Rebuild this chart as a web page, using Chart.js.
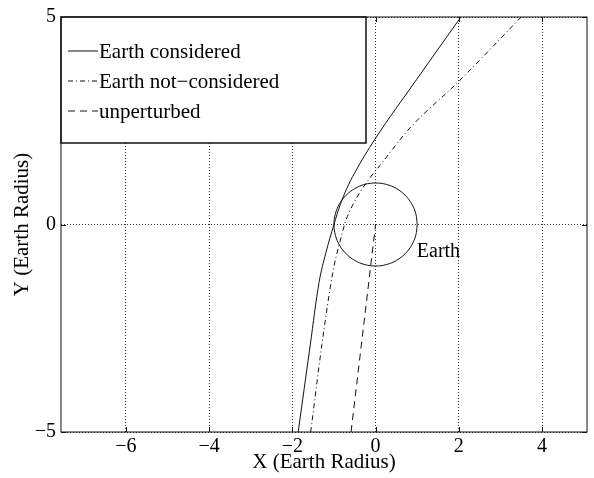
<!DOCTYPE html>
<html>
<head>
<meta charset="utf-8">
<script src="https://cdn.jsdelivr.net/npm/chart.js@4.4.0/dist/chart.umd.min.js"></script>
<style>
  html, body { margin: 0; padding: 0; background: #fff; }
</style>
</head>
<body>
<canvas id="orbit" width="594" height="478"></canvas>
<script>
const xTicks = [-6, -4, -2, 0, 2, 4];
const yTicks = [-5, 0, 5];

// trajectories (Earth radii)
const consideredX = [-1.86, -1.57, -1.36, -1.2, -1.0, -0.86, -0.7, -0.5, -0.02, 0.99, 2.05];
const consideredY = [-5, -2.9, -1.4, -0.7, 0.0, 0.45, 0.85, 1.25, 2.05, 3.5, 5];

const notConsideredX = [-1.56, -1.29, -1.02, -0.86, -0.72, -0.56, -0.36, -0.14, 0.1, 0.82, 1.99, 3.5];
const notConsideredY = [-5, -2.89, -1.11, -0.43, 0.08, 0.45, 0.8, 1.12, 1.42, 2.32, 3.44, 5];

const unperturbedX = [-0.59, 0];
const unperturbedY = [-5, 0];

// unit circle (the Earth), every 15 degrees
const earthX = [1, 0.966, 0.866, 0.707, 0.5, 0.259, 0, -0.259, -0.5, -0.707, -0.866, -0.966,
  -1, -0.966, -0.866, -0.707, -0.5, -0.259, 0, 0.259, 0.5, 0.707, 0.866, 0.966, 1];
const earthY = [0, 0.259, 0.5, 0.707, 0.866, 0.966, 1, 0.966, 0.866, 0.707, 0.5, 0.259,
  0, -0.259, -0.5, -0.707, -0.866, -0.966, -1, -0.966, -0.866, -0.707, -0.5, -0.259, 0];

const earthLabel = 'Earth';
const earthLabelAt = {x: 0.99, y: -0.78};

const serif = 'Liberation Serif';
const ink = '#111';

function pts(xs, ys) {
  return xs.map((x, i) => ({x: x, y: ys[i]}));
}

function minus(v) {
  return String(v).replace('-', '\u2212');
}

// legend box, inward ticks, frame and the Earth label
const decorations = {
  id: 'decorations',
  afterDatasetsDraw(chart) {
    const {ctx, chartArea: a, scales: {x, y}} = chart;
    ctx.save();

    ctx.strokeStyle = ink;
    ctx.lineWidth = 1;
    ctx.beginPath();
    xTicks.forEach(v => {
      const px = Math.round(x.getPixelForValue(v)) + 0.5;
      ctx.moveTo(px, a.bottom); ctx.lineTo(px, a.bottom - 5);
      ctx.moveTo(px, a.top); ctx.lineTo(px, a.top + 5);
    });
    yTicks.forEach(v => {
      const py = Math.round(y.getPixelForValue(v)) + 0.5;
      ctx.moveTo(a.left, py); ctx.lineTo(a.left + 5, py);
      ctx.moveTo(a.right, py); ctx.lineTo(a.right - 5, py);
    });
    ctx.stroke();

    // Earth label
    ctx.fillStyle = '#000';
    ctx.font = '20px "' + serif + '"';
    ctx.textBaseline = 'alphabetic';
    ctx.textAlign = 'left';
    ctx.fillText(earthLabel, x.getPixelForValue(earthLabelAt.x), y.getPixelForValue(earthLabelAt.y));

    // legend
    const bw = 305, bh = 126;
    ctx.fillStyle = '#fff';
    ctx.fillRect(a.left, a.top, bw, bh);
    ctx.lineWidth = 1.5;
    ctx.strokeStyle = ink;
    ctx.strokeRect(a.left, a.top, bw, bh);

    ctx.font = '21px "' + serif + '"';
    chart.data.datasets.slice(0, 3).forEach((ds, i) => {
      const ly = a.top + 34 + i * 30;
      ctx.beginPath();
      ctx.lineWidth = 1;
      ctx.setLineDash(ds.borderDash || []);
      ctx.moveTo(a.left + 7, ly);
      ctx.lineTo(a.left + 37, ly);
      ctx.stroke();
      ctx.setLineDash([]);
      ctx.fillStyle = '#000';
      ctx.fillText(ds.label, a.left + 38, ly + 7);
    });

    // frame
    ctx.lineWidth = 1;
    ctx.strokeStyle = ink;
    ctx.strokeRect(a.left, a.top, a.right - a.left, a.bottom - a.top);
    ctx.restore();
  }
};

new Chart(document.getElementById('orbit'), {
  type: 'scatter',
  data: {
    datasets: [
      {
        label: 'Earth considered',
        data: pts(consideredX, consideredY),
        borderDash: [],
      },
      {
        label: 'Earth not\u2212considered',
        data: pts(notConsideredX, notConsideredY),
        borderDash: [5, 3, 1, 3],
      },
      {
        label: 'unperturbed',
        data: pts(unperturbedX, unperturbedY),
        borderDash: [7, 5],
      },
      {
        label: 'Earth',
        data: pts(earthX, earthY),
        borderDash: [],
        tension: 0.4,
        cubicInterpolationMode: 'default',
      },
    ].map(ds => Object.assign({
      showLine: true,
      pointRadius: 0,
      borderColor: ink,
      borderWidth: 1,
      cubicInterpolationMode: 'monotone',
    }, ds)),
  },
  options: {
    responsive: false,
    animation: false,
    devicePixelRatio: 1,
    layout: {padding: {top: 16, right: 7, left: 0, bottom: 0}},
    plugins: {
      legend: {display: false},
      tooltip: {enabled: false},
    },
    scales: {
      x: {
        type: 'linear',
        min: -7.56,
        max: 5.08,
        afterBuildTicks: s => { s.ticks = xTicks.map(v => ({value: v})); },
        afterFit: s => { s.height = 46; },
        ticks: {
          callback: v => minus(v),
          color: '#000',
          padding: 3,
          font: {family: serif, size: 20},
        },
        grid: {color: '#333', lineWidth: 1, drawTicks: false},
        border: {display: false, dash: [1, 2]},
        title: {
          display: true,
          text: 'X (Earth Radius)',
          color: '#000',
          font: {family: serif, size: 21},
          padding: {top: 0, bottom: 3},
        },
      },
      y: {
        type: 'linear',
        min: -5,
        max: 5,
        afterBuildTicks: s => { s.ticks = yTicks.map(v => ({value: v})); },
        afterFit: s => { s.width = 61; },
        ticks: {
          callback: v => minus(v),
          color: '#000',
          padding: 5,
          font: {family: serif, size: 20},
        },
        grid: {color: '#333', lineWidth: 1, drawTicks: false},
        border: {display: false, dash: [1, 2]},
        title: {
          display: true,
          text: 'Y (Earth Radius)',
          color: '#000',
          font: {family: serif, size: 21},
          padding: {top: 10, bottom: 0},
        },
      },
    },
  },
  plugins: [decorations],
});
</script>
</body>
</html>
